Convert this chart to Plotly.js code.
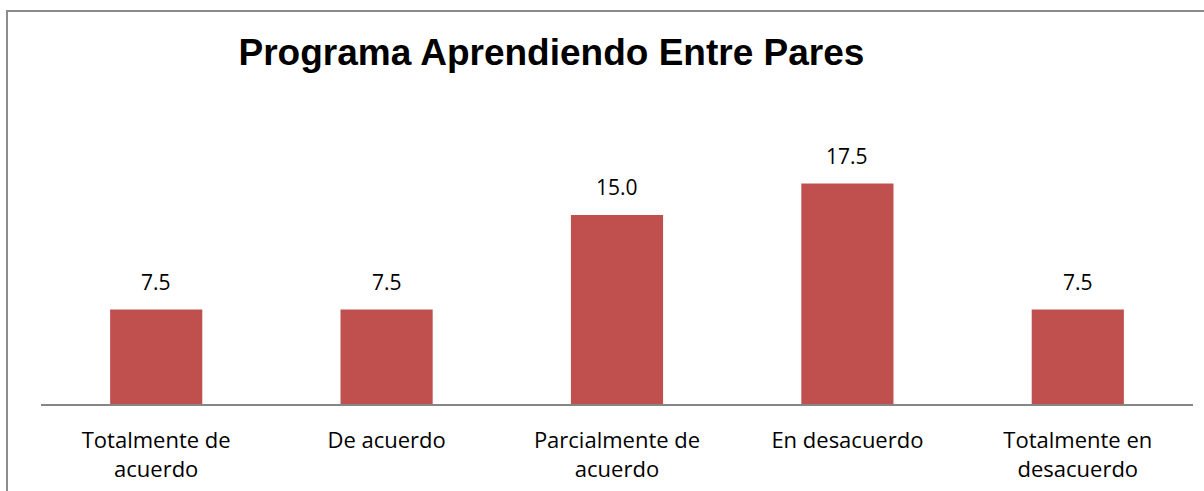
<!DOCTYPE html>
<html>
<head>
<meta charset="utf-8">
<script src="https://cdn.plot.ly/plotly-3.0.1.min.js"></script>
<style>
    body { margin: 0; background: #fff; }
    #frame { position: absolute; left: 6px; top: 10px; width: 1300px; height: 600px;
             border-left: 2px solid #8c8c8c; border-top: 2px solid #8c8c8c; }
    #chart { position: absolute; left: 0; top: 0; width: 1204px; height: 491px; }
</style>
</head>
<body>
<div id="frame"></div>
<div id="chart"></div>
<script>
// Chart data
const categories = [
    'Totalmente de<br>acuerdo',
    'De acuerdo',
    'Parcialmente de<br>acuerdo',
    'En desacuerdo',
    'Totalmente en<br>desacuerdo'
];
const values = [7.5, 7.5, 15.0, 17.5, 7.5];

const labelFont = { family: '"Open Sans", Lato, sans-serif', size: 21, color: '#000' };
const tickFont = { family: '"Open Sans", Lato, sans-serif', size: 22, color: '#000' };

const trace = {
    x: categories,
    y: values,
    type: 'bar',
    marker: { color: '#C0504D' },
    hoverinfo: 'none'
};

// value labels above bars
const annotations = categories.map((c, i) => ({
    x: c,
    y: values[i],
    text: values[i].toFixed(1),
    showarrow: false,
    yanchor: 'bottom',
    yshift: 12,
    font: labelFont
}));

const layout = {
    width: 1204,
    height: 491,
    paper_bgcolor: 'rgba(0,0,0,0)',
    plot_bgcolor: 'rgba(0,0,0,0)',
    margin: { l: 41, r: 11, t: 150, b: 87 },
    bargap: 0.6,
    showlegend: false,
    title: {
        text: '<b>Programa Aprendiendo Entre Pares</b>',
        font: { family: '"Liberation Sans", Arial, sans-serif', size: 37, color: '#000' },
        x: 0.458,
        xanchor: 'center',
        y: 0.894,
        yanchor: 'middle'
    },
    xaxis: {
        showline: true,
        linecolor: '#868686',
        linewidth: 2,
        ticks: '',
        tickfont: tickFont,
        ticklabelstandoff: 16,
        fixedrange: true
    },
    yaxis: {
        range: [0, 20.16],
        visible: false,
        showgrid: false,
        zeroline: false,
        fixedrange: true
    },
    annotations: annotations
};

Plotly.newPlot('chart', [trace], layout, { displayModeBar: false, staticPlot: true });
</script>
</body>
</html>
